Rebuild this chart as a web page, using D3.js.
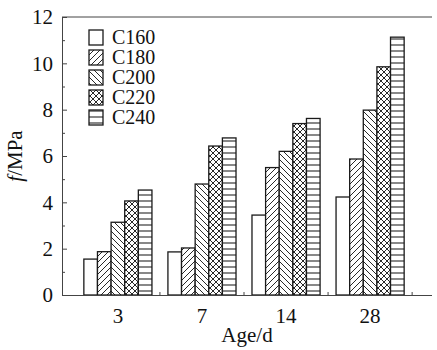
<!DOCTYPE html>
<html><head><meta charset="utf-8">
<script src="https://cdn.jsdelivr.net/npm/d3@7"></script>
</head><body style="margin:0">
<script>
const ages = ["3", "7", "14", "28"];
const series = ["C160", "C180", "C200", "C220", "C240"];
const C160 = [1.55, 1.86, 3.45, 4.23];
const C180 = [1.87, 2.03, 5.50, 5.87];
const C200 = [3.14, 4.79, 6.20, 7.98];
const C220 = [4.06, 6.43, 7.40, 9.85];
const C240 = [4.53, 6.78, 7.62, 11.13];
const yTicks = [0, 2, 4, 6, 8, 10, 12];
const yMinor = [1, 3, 5, 7, 9, 11];
const values = {C160, C180, C200, C220, C240};
const patterns = ["none", "fwd", "back", "cross", "horiz"];

const W = 437, H = 350;
const L = 62, R = 432, T = 17, B = 295;
const FF = "Liberation Serif, Times New Roman, Tinos, serif";
const svg = d3.select("body").append("svg").attr("width", W).attr("height", H)
  .attr("font-family", FF);
const defs = svg.append("defs");

function pat(id, draw, w, h) {
  const p = defs.append("pattern").attr("id", id).attr("patternUnits", "userSpaceOnUse")
    .attr("width", w).attr("height", h);
  p.append("rect").attr("width", w).attr("height", h).attr("fill", "#fff");
  draw(p);
}
const ls = "#111";
pat("fwd", p => {
  p.append("path").attr("d", "M-1,7 L7,-1 M-1,1 L1,-1 M5,7 L7,5").attr("stroke", ls).attr("stroke-width", 0.9);
}, 6, 6);
pat("back", p => {
  p.append("path").attr("d", "M-1,-1 L7,7 M5,-1 L7,1 M-1,5 L1,7").attr("stroke", ls).attr("stroke-width", 0.9);
}, 6, 6);
pat("cross", p => {
  p.append("path").attr("d", "M-1,7 L7,-1 M-1,1 L1,-1 M5,7 L7,5 M-1,-1 L7,7 M5,-1 L7,1 M-1,5 L1,7").attr("stroke", ls).attr("stroke-width", 0.9);
}, 6, 6);
pat("horiz", p => {
  p.append("path").attr("d", "M0,3 L6,3").attr("stroke", ls).attr("stroke-width", 1);
}, 6, 6);
const fillFor = k => patterns[k] === "none" ? "#fff" : `url(#${patterns[k]})`;

const x = d3.scaleBand().domain(ages).range([L, 426]).paddingInner(0.19).paddingOuter(0.26);
const xs = d3.scaleBand().domain(series).range([0, x.bandwidth()]);
const y = d3.scaleLinear().domain([0, 12]).range([B, T]);

const g = svg.append("g");
ages.forEach((a, i) => {
  series.forEach((s, k) => {
    g.append("rect")
      .attr("x", x(a) + xs(s)).attr("y", y(values[s][i]))
      .attr("width", xs.bandwidth()).attr("height", y(0) - y(values[s][i]))
      .attr("fill", fillFor(k)).attr("stroke", "#1a1a1a").attr("stroke-width", 1.3);
  });
});

const axStroke = "#444";
svg.append("g").attr("transform", `translate(${L},0)`)
  .call(d3.axisLeft(y).tickValues(yTicks).tickSizeInner(-5).tickSizeOuter(0).tickPadding(9));
const yAxMinor = svg.append("g").attr("transform", `translate(${L},0)`)
  .call(d3.axisLeft(y).tickValues(yMinor).tickSizeInner(-3).tickSizeOuter(0).tickFormat(""));
yAxMinor.select(".domain").remove();
const xAx = svg.append("g").attr("transform", `translate(0,${B})`)
  .call(d3.axisBottom(x).tickSizeInner(0).tickSizeOuter(0).tickPadding(13));
xAx.select(".domain").attr("d", `M${L},0.5H${R}`);
const mids = ages.map(a => x(a) + x.bandwidth() + x.step() * x.paddingInner() / 2);
svg.append("g").selectAll("line").data(mids).join("line")
  .attr("x1", d => d).attr("x2", d => d).attr("y1", B).attr("y2", B - 3)
  .attr("stroke", axStroke);
svg.append("line").attr("x1", L).attr("x2", R).attr("y1", T).attr("y2", T).attr("stroke", axStroke);

svg.selectAll(".domain, .tick line").attr("stroke", axStroke);
svg.selectAll("g").attr("font-family", FF).attr("font-size", 21);
svg.selectAll(".tick text").attr("fill", "#111");

svg.append("text").attr("x", (L + R) / 2).attr("y", 342).attr("text-anchor", "middle")
  .attr("font-family", FF).attr("font-size", 21).attr("fill", "#111").text("Age/d");
const yl = svg.append("text").attr("transform", `translate(22,${(T + B) / 2}) rotate(-90)`)
  .attr("text-anchor", "middle").attr("font-family", FF).attr("font-size", 21).attr("fill", "#111");
yl.append("tspan").attr("font-style", "italic").text("f");
yl.append("tspan").text("/MPa");

const lg = svg.append("g");
series.forEach((s, k) => {
  const yy = 30 + k * 20;
  lg.append("rect").attr("x", 89).attr("y", yy).attr("width", 14).attr("height", 15)
    .attr("fill", fillFor(k)).attr("stroke", "#1a1a1a").attr("stroke-width", 1.3);
  lg.append("text").attr("x", 112).attr("y", yy + 14).attr("font-family", FF)
    .attr("font-size", 20).attr("fill", "#111").text(s);
});
</script>
</body></html>
